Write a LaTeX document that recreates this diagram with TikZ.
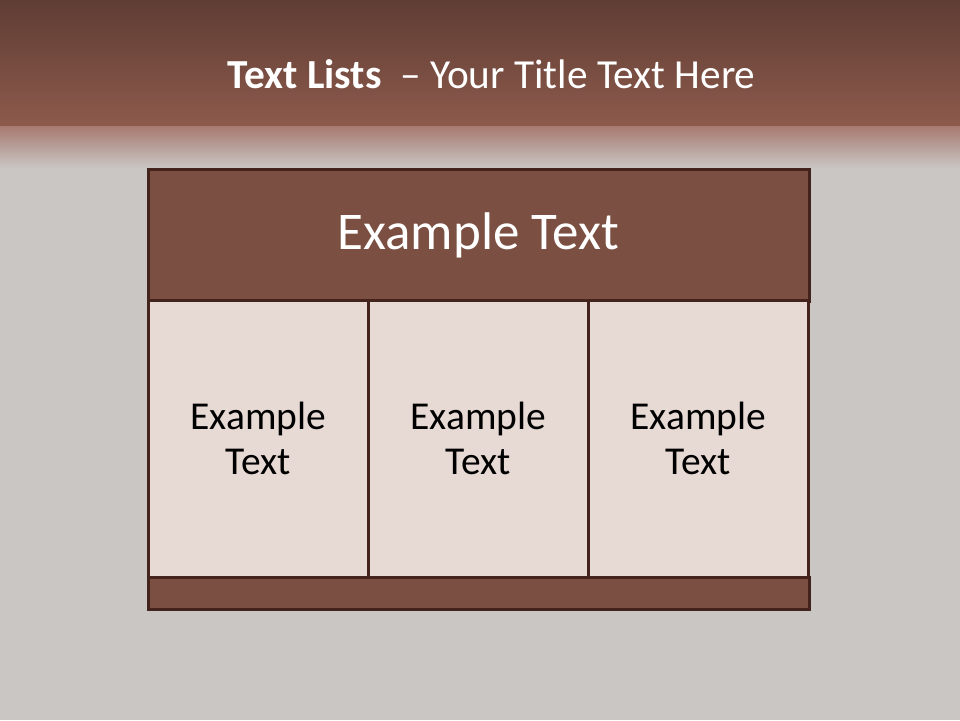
\documentclass[tikz,border=0pt]{standalone}
\usepackage{fontspec}
\setmainfont{Carlito}
\definecolor{bandtop}{HTML}{5F3D34}
\definecolor{bandbot}{HTML}{8D5A4C}
\definecolor{fadetop}{HTML}{A77A70}
\definecolor{bggray}{HTML}{CAC6C4}
\definecolor{headfill}{HTML}{7B4F42}
\definecolor{cellfill}{HTML}{E7D9D4}
\definecolor{edge}{HTML}{43231C}
\tikzset{
  panel/.style={draw=edge, line width=3pt, inner sep=0pt, anchor=center},
  headbox/.style={panel, fill=headfill, text=white, font=\fontsize{53}{60}\selectfont},
  cellbox/.style={panel, fill=cellfill, text=black, align=center, minimum width=220pt, minimum height=277pt, font=\fontsize{39.5}{45}\selectfont},
}
\begin{document}
\begin{tikzpicture}[x=1pt,y=-1pt]
\useasboundingbox (0,0) rectangle (960,720);
% background
\fill[bggray] (0,0) rectangle (960,720);
\shade[top color=bandtop, bottom color=bandbot] (0,0) rectangle (960,126);
\shade[top color=fadetop, bottom color=bggray] (0,126) rectangle (960,168);
% title
\node[anchor=base, text=white, font=\fontsize{41.3}{46}\selectfont] (title) at (491.5,88)
  {\textbf{Text Lists}\ \ – Your Title Text Here};
% table
\node[headbox, minimum width=661pt, minimum height=132pt] (head) at (478.5,235) {Example Text};
\node[cellbox] (c1) at (258.5,438.5) {Example\\Text};
\node[cellbox] (c2) at (478.5,438.5) {Example\\Text};
\node[cellbox] (c3) at (698.5,438.5) {Example\\Text};
\node[panel, fill=headfill, minimum width=661pt, minimum height=32pt] (foot) at (478.5,593) {};
\end{tikzpicture}
\end{document}
